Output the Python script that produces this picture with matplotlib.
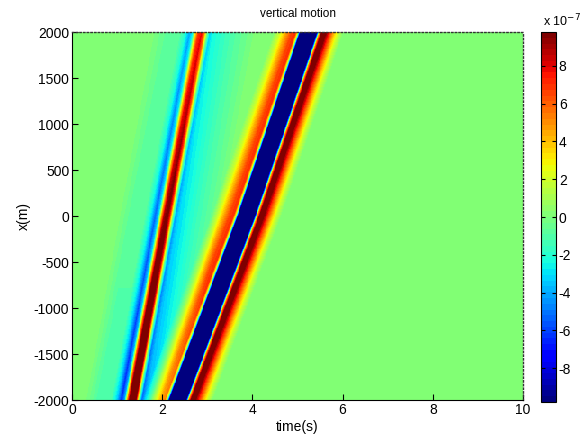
import numpy as np
import matplotlib
matplotlib.use("Agg")
import matplotlib.pyplot as plt

plt.rcParams['font.family'] = ['Liberation Sans', 'DejaVu Sans']
plt.rcParams['axes.unicode_minus'] = False

# ---- data (amplitudes in units of 1e-7) ----
# positions (m) at which arrival times were read
arrival_x = [-2000, 0, 2000]
# arrival time (s) of each wave centre at those positions
wave1_arrival = [1.31, 2.06, 2.82]
wave2_arrival = [2.36, 3.88, 5.26]
# amplitude scale of each wave at those positions
wave1_scale = [1.3, 1.05, 0.8]
wave2_scale = [1.0, 1.0, 1.0]
# time profile of wave 1 (offset from centre, s) and amplitude
wave1_offset = [-1.00, -0.75, -0.45, -0.32, -0.22, -0.15, -0.09, -0.03, 0.05, 0.11,
                0.17, 0.23, 0.30, 0.50, 0.75, 1.00, 1.20]
wave1_amp = [0.0, -0.8, -0.8, -2.5, -5.0, -3.0, 4.0, 8.5, 9.8, 7.0,
             0.0, -4.0, -3.0, -2.2, -1.3, -0.6, 0.0]
# time profile of wave 2
wave2_offset = [-0.80, -0.65, -0.52, -0.40, -0.30, -0.25, -0.22, -0.19, 0.00, 0.15,
                0.19, 0.22, 0.28, 0.37, 0.46, 0.56, 0.64, 0.77]
wave2_amp = [0.0, 2.0, 4.5, 6.5, 7.0, 2.0, -5.0, -13.0, -20.0, -13.0,
             -5.0, 4.0, 10.5, 10.0, 7.0, 4.0, 2.0, 0.0]

time_range = [0, 10]
x_range = [-2000, 2000]
x_ticks = [-2000, -1500, -1000, -500, 0, 500, 1000, 1500, 2000]
t_ticks = [0, 2, 4, 6, 8, 10]
cbar_ticks = [-8, -6, -4, -2, 0, 2, 4, 6, 8]
clim = 9.8

# ---- build field ----
t = np.linspace(time_range[0], time_range[1], 501)
x = np.linspace(x_range[0], x_range[1], 401)
T, X = np.meshgrid(t, x)
field = np.zeros_like(T)
for arr, sc, off, amp in [(wave1_arrival, wave1_scale, wave1_offset, wave1_amp),
                          (wave2_arrival, wave2_scale, wave2_offset, wave2_amp)]:
    tc = np.interp(X, arrival_x, arr)
    s = np.interp(X, arrival_x, sc)
    field += s * np.interp(T - tc, off, amp, left=0, right=0)

fig = plt.figure(figsize=(5.86, 4.46), dpi=100)
W, H = 586, 446
ax = fig.add_axes([72 / W, (H - 400) / H, (523 - 72) / W, (400 - 32) / H])
cmap = plt.get_cmap('jet', 64)
im = ax.imshow(field, extent=[time_range[0], time_range[1], x_range[0], x_range[1]],
               origin='lower', aspect='auto', cmap=cmap, vmin=-clim, vmax=clim,
               interpolation='nearest')
ax.set_xlim(time_range)
ax.set_ylim(x_range)
ax.set_xticks(t_ticks)
ax.set_yticks(x_ticks)
ax.tick_params(direction='in', length=4, width=0.8, labelsize=10, pad=2,
               colors='black')
for sp in ['top', 'right']:
    ax.spines[sp].set_linestyle(':')
    ax.spines[sp].set_color('#333333')
    ax.spines[sp].set_linewidth(1.0)
ax.set_title('vertical motion', fontsize=8.5, pad=11)
ax.set_xlabel('time(s)', fontsize=10, labelpad=2)
ax.set_ylabel('x(m)', fontsize=10, labelpad=2)

cax = fig.add_axes([541 / W, (H - 402) / H, 15 / W, (402 - 32) / H])
cb = fig.colorbar(im, cax=cax, ticks=cbar_ticks)
cb.outline.set_linewidth(0.8)
cax.tick_params(direction='in', length=3, labelsize=10, pad=2, left=True, right=True)
fig.text(543 / W, (H - 26) / H, 'x 10$^{-7}$', fontsize=9, ha='left', va='baseline')

fig.savefig('out.png', dpi=100)
